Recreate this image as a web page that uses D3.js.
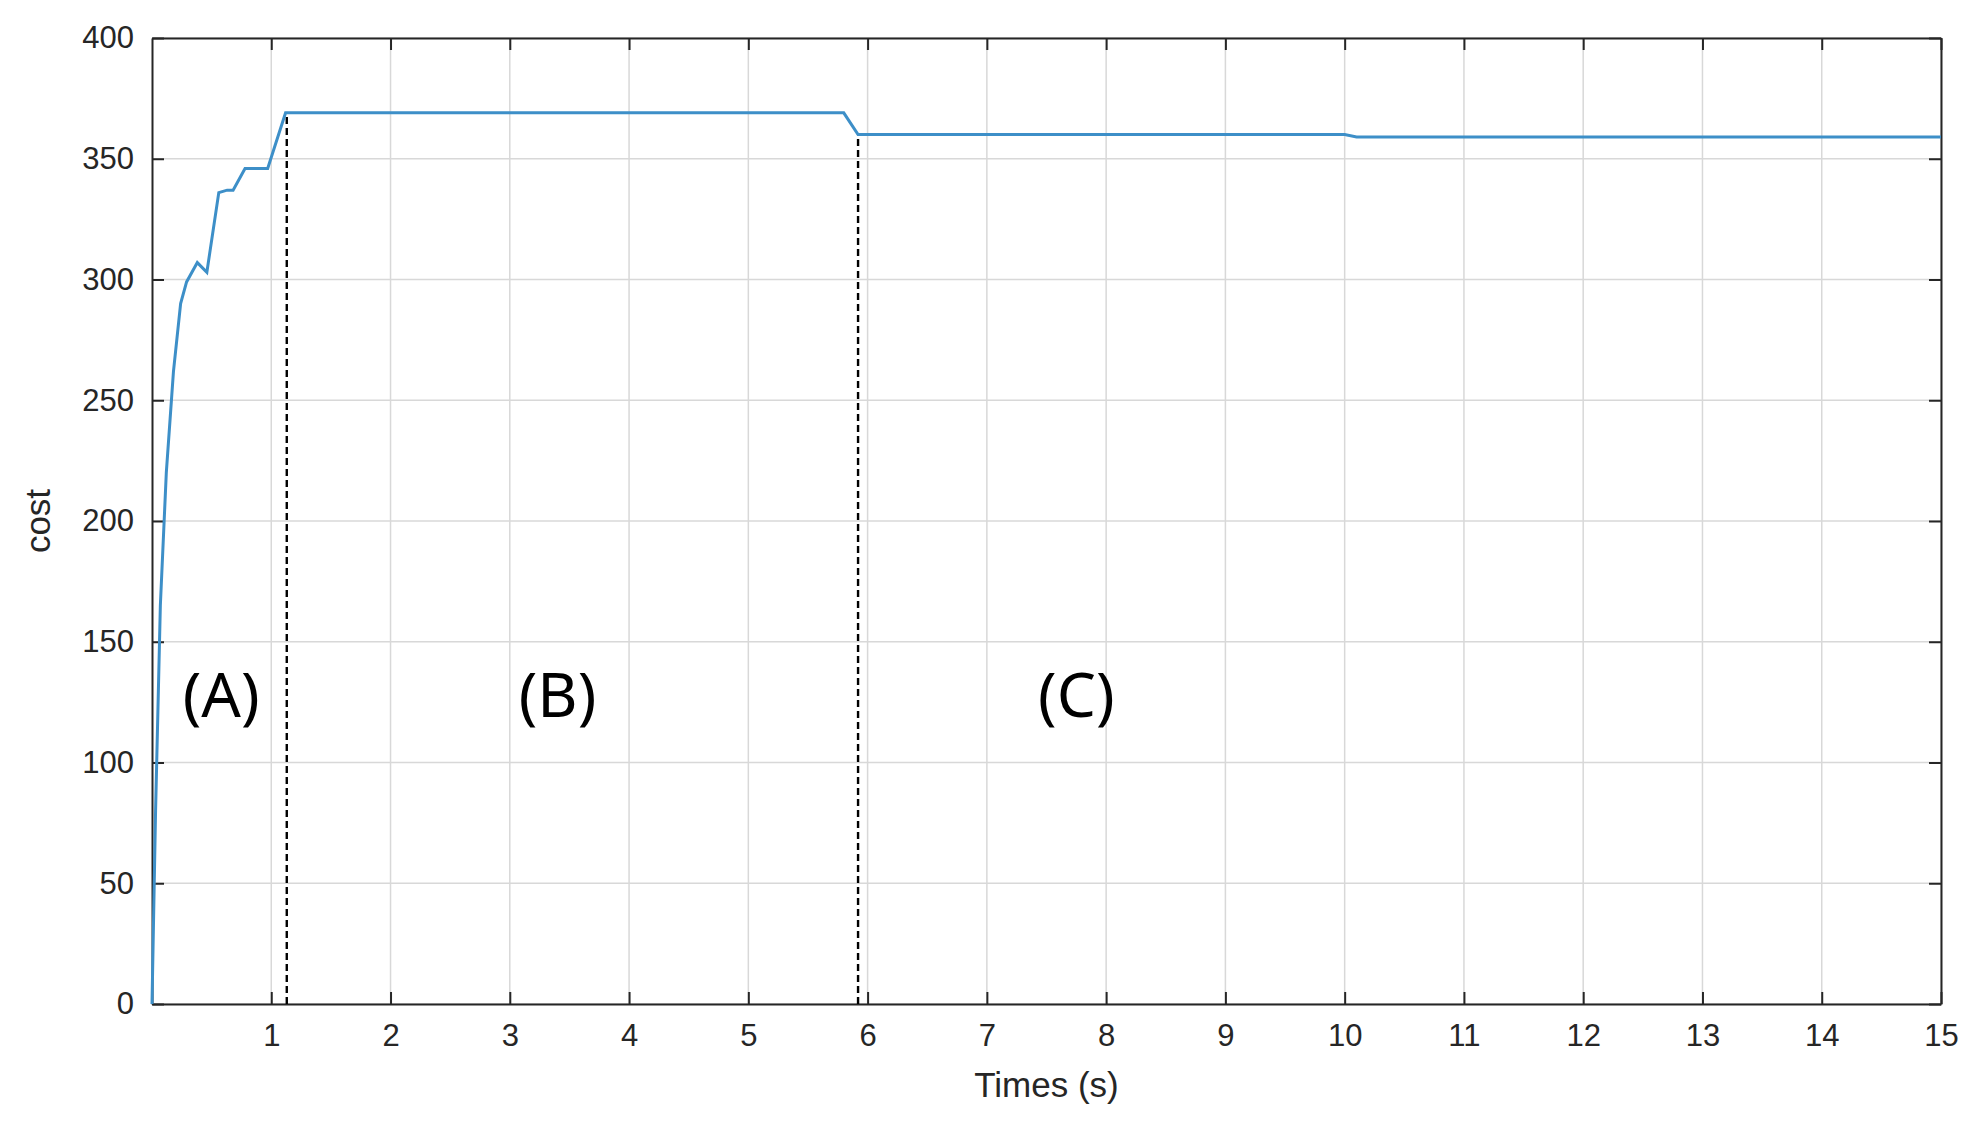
<!DOCTYPE html>
<html><head><meta charset="utf-8">
<script src="https://cdn.jsdelivr.net/npm/d3@7"></script>
<style>body{margin:0;background:#fff}</style>
</head><body>
<svg id="c" width="1970" height="1133"></svg>
<script>
const times = [0, 0.03, 0.07, 0.12, 0.18, 0.24, 0.29, 0.38, 0.46, 0.56, 0.63, 0.68, 0.78, 0.97, 1.12, 5.8, 5.92, 10.0, 10.1, 15];
const costs = [0, 80, 165, 220, 262, 290, 299, 307, 303, 336, 337, 337, 346, 346, 369, 369, 360, 360, 359, 359];
const xTicks = [1, 2, 3, 4, 5, 6, 7, 8, 9, 10, 11, 12, 13, 14, 15];
const yTicks = [0, 50, 100, 150, 200, 250, 300, 350, 400];
const phaseBounds = [{t: 1.13, c: 369}, {t: 5.92, c: 360}];
const phaseLabels = [{t: 0.58, c: 128, text: '(A)'}, {t: 3.4, c: 128, text: '(B)'}, {t: 7.75, c: 128, text: '(C)'}];

const m = {left: 152, right: 29, top: 38, bottom: 129};
const W = 1970, H = 1133;
const svg = d3.select('#c');
const x = d3.scaleLinear().domain([0, 15]).range([m.left, W - m.right]);
const y = d3.scaleLinear().domain([0, 400]).range([H - m.bottom, m.top]);
const font = 'Liberation Sans, Arial, sans-serif';

// grid
svg.append('g').selectAll('line').data(xTicks).join('line')
  .attr('x1', d => x(d)).attr('x2', d => x(d)).attr('y1', y(0)).attr('y2', y(400))
  .attr('stroke', '#d8d8d8').attr('stroke-width', 1.5);
svg.append('g').selectAll('line').data(yTicks).join('line')
  .attr('y1', d => y(d)).attr('y2', d => y(d)).attr('x1', x(0)).attr('x2', x(15))
  .attr('stroke', '#d8d8d8').attr('stroke-width', 1.5);

// axes
const xa = svg.append('g').attr('transform', `translate(0,${y(0)})`)
  .call(d3.axisBottom(x).tickValues(xTicks).tickSizeInner(-12).tickSizeOuter(0).tickPadding(20));
const xt = svg.append('g').attr('transform', `translate(0,${y(400)})`)
  .call(d3.axisTop(x).tickValues(xTicks).tickSizeInner(-12).tickSizeOuter(0).tickFormat(''));
const ya = svg.append('g').attr('transform', `translate(${x(0)},0)`)
  .call(d3.axisLeft(y).tickValues(yTicks).tickSizeInner(-12).tickSizeOuter(0).tickPadding(18));
const yr = svg.append('g').attr('transform', `translate(${x(15)},0)`)
  .call(d3.axisRight(y).tickValues(yTicks).tickSizeInner(-12).tickSizeOuter(0).tickFormat(''));
[xa, xt, ya, yr].forEach(g => {
  g.selectAll('path,line').attr('stroke', '#262626').attr('stroke-width', 2);
  g.selectAll('text').attr('font-family', font).attr('font-size', 31).attr('fill', '#262626');
});

svg.append('text').attr('x', (x(0) + x(15)) / 2).attr('y', H - 36)
  .attr('text-anchor', 'middle').attr('font-family', font).attr('font-size', 35).attr('fill', '#262626')
  .text('Times (s)');
svg.append('text').attr('transform', `translate(50,${(y(0) + y(400)) / 2}) rotate(-90)`)
  .attr('text-anchor', 'middle').attr('font-family', font).attr('font-size', 35).attr('fill', '#262626')
  .text('cost');

// dashed phase boundaries
svg.append('g').selectAll('line').data(phaseBounds).join('line')
  .attr('x1', d => x(d.t)).attr('x2', d => x(d.t)).attr('y1', y(0)).attr('y2', d => y(d.c))
  .attr('stroke', '#000').attr('stroke-width', 2.4).attr('stroke-dasharray', '7,4');

// cost curve
const data = times.map((t, i) => ({t, c: costs[i]}));
svg.append('path').datum(data)
  .attr('fill', 'none').attr('stroke', '#3d8fc8').attr('stroke-width', 3)
  .attr('d', d3.line().x(d => x(d.t)).y(d => y(d.c)));

svg.append('g').selectAll('text').data(phaseLabels).join('text')
  .attr('x', d => x(d.t)).attr('y', d => y(d.c)).attr('dy', '0.35em')
  .attr('text-anchor', 'middle').attr('font-family', 'Noto Sans, sans-serif').attr('font-size', 62).attr('fill', '#000')
  .text(d => d.text);
</script>
</body></html>
